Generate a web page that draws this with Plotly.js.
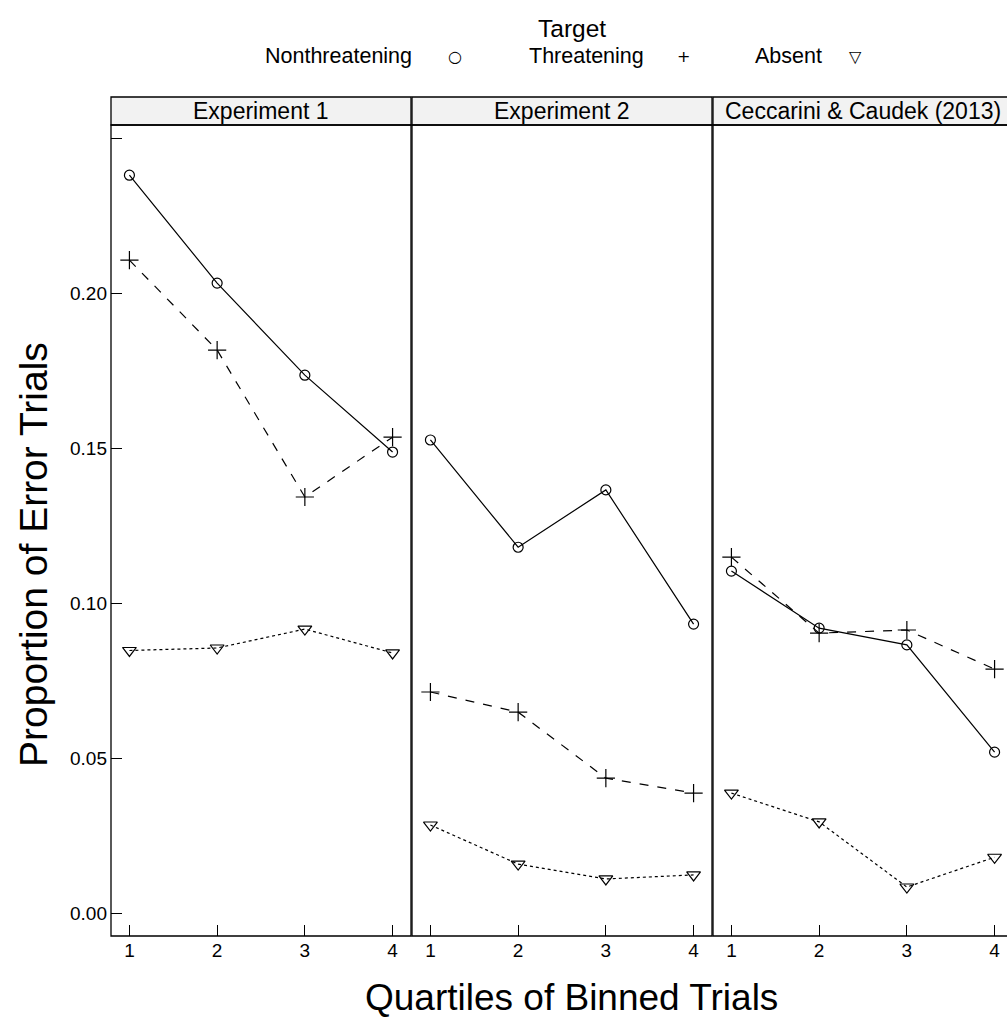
<!DOCTYPE html>
<html><head><meta charset="utf-8">
<script src="https://cdn.plot.ly/plotly-3.0.1.min.js"></script>
<style>html,body{margin:0;padding:0;background:#fff}</style>
</head><body>
<div id="chart" style="width:1007px;height:1017px"></div>
<script>
// ---- data ----
const quartiles = [1, 2, 3, 4];
const panelNames = ["Experiment 1", "Experiment 2", "Ceccarini & Caudek (2013)"];
const targetNames = ["Nonthreatening", "Threatening", "Absent"];
const legendTitle = "Target";
const xTitle = "Quartiles of Binned Trials";
const yTitle = "Proportion of Error Trials";
const yTickVals = [0, 0.05, 0.10, 0.15, 0.20, 0.25];
const yTickText = ["0.00", "0.05", "0.10", "0.15", "0.20", ""];

// Experiment 1
const exp1Nonthreatening = [0.238, 0.2032, 0.1735, 0.1487];
const exp1Threatening    = [0.2106, 0.1816, 0.1342, 0.1535];
const exp1Absent         = [0.0847, 0.0855, 0.0916, 0.0839];
// Experiment 2
const exp2Nonthreatening = [0.1526, 0.1180, 0.1365, 0.0932];
const exp2Threatening    = [0.0713, 0.0648, 0.0435, 0.0387];
const exp2Absent         = [0.0284, 0.0158, 0.0110, 0.0123];
// Ceccarini & Caudek (2013)
const ccNonthreatening = [0.1103, 0.0919, 0.0865, 0.0519];
const ccThreatening    = [0.1148, 0.0903, 0.0913, 0.0787];
const ccAbsent         = [0.0387, 0.0294, 0.0084, 0.0180];

const seriesByPanel = [
  [exp1Nonthreatening, exp1Threatening, exp1Absent],
  [exp2Nonthreatening, exp2Threatening, exp2Absent],
  [ccNonthreatening, ccThreatening, ccAbsent]
];

// ---- styles ----
const W = 1007, H = 1017;
const FONT = "Liberation Sans, Arial, Helvetica, sans-serif";
const styles = [
  {dash: "solid", symbol: "circle-open", size: 10, glyph: "\u25CB"},
  {dash: "dash",  symbol: "cross-thin-open", size: 13, glyph: "+"},
  {dash: "dot",   symbol: "triangle-down-open", size: 12, glyph: "\u25BD"}
];
const panelPx = [[111, 411], [412, 712], [713, 1007]];
const pxPerUnit = 300 / 3.42;
const yTopPx = 125, yBotPx = 936, stripTopPx = 97;

const traces = [];
seriesByPanel.forEach((series, p) => {
  const ax = p === 0 ? "x" : "x" + (p + 1);
  series.forEach((vals, s) => {
    traces.push({
      type: "scatter", mode: "lines+markers",
      x: quartiles, y: vals, xaxis: ax, yaxis: "y",
      name: targetNames[s], showlegend: false,
      line: {color: "#000", width: 1.2, dash: styles[s].dash},
      marker: {symbol: styles[s].symbol, size: styles[s].size, color: "#000",
               line: {color: "#000", width: 1.2}},
      cliponaxis: false
    });
  });
});

const layout = {
  width: W, height: H,
  margin: {l: 0, r: 0, t: 0, b: 0},
  paper_bgcolor: "#fff", plot_bgcolor: "#fff",
  font: {family: FONT, color: "#000"},
  showlegend: false,
  yaxis: {
    domain: [1 - yBotPx / H, 1 - yTopPx / H],
    range: [-0.0074, 0.2542], anchor: "x",
    tickvals: yTickVals, ticktext: yTickText,
    ticks: "inside", ticklen: 11, tickcolor: "#000", tickwidth: 1,
    tickfont: {size: 19, family: FONT},
    ticklabelstandoff: 3,
    showgrid: false, zeroline: false, showline: false
  },
  shapes: [],
  annotations: []
};

panelPx.forEach((px, p) => {
  const key = p === 0 ? "xaxis" : "xaxis" + (p + 1);
  const width = px[1] - px[0];
  const lo = 0.79;
  layout[key] = {
    domain: [px[0] / W, px[1] / W],
    range: [lo, lo + width / pxPerUnit],
    anchor: "y",
    tickvals: quartiles, ticktext: quartiles.map(String),
    ticks: "inside", ticklen: 11, tickcolor: "#000", tickwidth: 1,
    tickfont: {size: 19, family: FONT},
    ticklabelstandoff: 1,
    showgrid: false, zeroline: false, showline: false
  };
  const xr = (p === 0 ? "x" : "x" + (p + 1)) + " domain";
  layout.shapes.push({type: "rect", xref: xr, yref: "y domain",
    x0: 0, x1: p === 2 ? 1.2 : 1, y0: 0, y1: 1,
    line: {color: "#000", width: 1.3}, fillcolor: "rgba(0,0,0,0)", layer: "above"});
  layout.shapes.push({type: "rect", xref: xr, yref: "paper",
    x0: 0, x1: p === 2 ? 1.2 : 1, y0: 1 - yTopPx / H, y1: 1 - stripTopPx / H,
    line: {color: "#000", width: 1.3}, fillcolor: "#f2f2f2", layer: "below"});
  layout.annotations.push({text: panelNames[p], xref: xr, yref: "paper",
    x: p === 2 ? 0.5 * (300 / 294) : 0.5, y: 1 - ((yTopPx + stripTopPx) / 2) / H,
    xanchor: "center", yanchor: "middle", showarrow: false,
    font: {size: 23, family: FONT}});
});

// axis titles
layout.annotations.push({text: xTitle, xref: "paper", yref: "paper",
  x: 571 / W, y: 1 - 997 / H, xanchor: "center", yanchor: "middle",
  showarrow: false, font: {size: 37, family: FONT}});
layout.annotations.push({text: yTitle, xref: "paper", yref: "paper",
  x: 33 / W, y: 1 - 555 / H, xanchor: "center", yanchor: "middle", textangle: -90,
  showarrow: false, font: {size: 39, family: FONT}});

// key on top
layout.annotations.push({text: legendTitle, xref: "paper", yref: "paper",
  x: 572 / W, y: 1 - 29 / H, xanchor: "center", yanchor: "middle",
  showarrow: false, font: {size: 24.5, family: FONT}});
const legendTextLeft = [263, 527, 753];
const legendGlyphX = [455, 683, 855];
targetNames.forEach((nm, i) => {
  layout.annotations.push({text: nm, xref: "paper", yref: "paper",
    x: legendTextLeft[i] / W, y: 1 - 56 / H, xanchor: "left", yanchor: "middle",
    showarrow: false, font: {size: 21.5, family: FONT}});
  layout.annotations.push({text: styles[i].glyph, xref: "paper", yref: "paper",
    x: legendGlyphX[i] / W, y: 1 - 56 / H, xanchor: "center", yanchor: "middle",
    showarrow: false, font: {size: 16, family: "DejaVu Sans, sans-serif"}});
});

Plotly.newPlot("chart", traces, layout, {displayModeBar: false, staticPlot: true});
</script>
</body></html>
